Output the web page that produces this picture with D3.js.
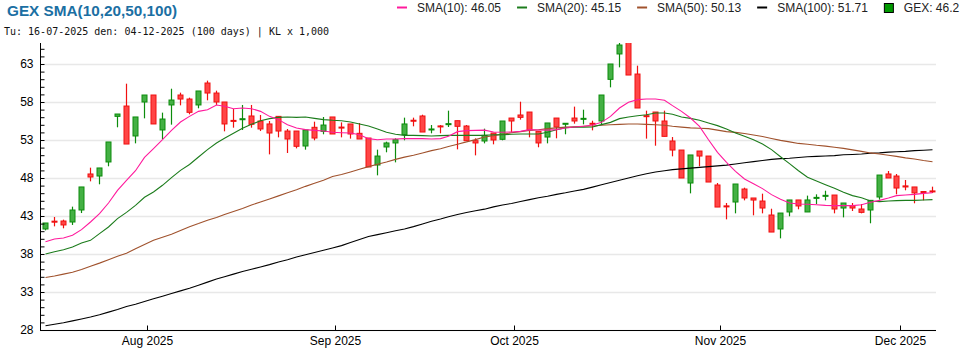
<!DOCTYPE html>
<html><head><meta charset="utf-8">
<script src="https://cdn.jsdelivr.net/npm/d3@7"></script>
<style>html,body{margin:0;padding:0;background:#fff;}svg{display:block;}</style>
</head><body>
<svg id="c" width="970" height="350"></svg>
<script>
// ---- DATA ----
const dates = [
"2025-07-16","2025-07-17","2025-07-18","2025-07-21","2025-07-22","2025-07-23","2025-07-24","2025-07-25","2025-07-28","2025-07-29","2025-07-30","2025-07-31",
"2025-08-01","2025-08-04","2025-08-05","2025-08-06","2025-08-07","2025-08-08","2025-08-11","2025-08-12","2025-08-13","2025-08-14","2025-08-15","2025-08-18","2025-08-19","2025-08-20","2025-08-21","2025-08-22","2025-08-25","2025-08-26","2025-08-27","2025-08-28","2025-08-29",
"2025-09-03","2025-09-04","2025-09-05","2025-09-08","2025-09-09","2025-09-10","2025-09-11","2025-09-12","2025-09-15","2025-09-16","2025-09-17","2025-09-18","2025-09-19","2025-09-22","2025-09-23","2025-09-24","2025-09-25","2025-09-26","2025-09-29","2025-09-30",
"2025-10-01","2025-10-02","2025-10-03","2025-10-06","2025-10-07","2025-10-08","2025-10-09","2025-10-10","2025-10-13","2025-10-14","2025-10-15","2025-10-16","2025-10-17","2025-10-20","2025-10-21","2025-10-22","2025-10-23","2025-10-24","2025-10-27","2025-10-28","2025-10-29","2025-10-30","2025-10-31",
"2025-11-03","2025-11-04","2025-11-05","2025-11-06","2025-11-07","2025-11-10","2025-11-11","2025-11-12","2025-11-13","2025-11-14","2025-11-17","2025-11-18","2025-11-19","2025-11-20","2025-11-21","2025-11-24","2025-11-25","2025-11-26","2025-11-27","2025-11-28",
"2025-12-01","2025-12-02","2025-12-03","2025-12-04"];

const open = [41.29,42.32,42.34,42.21,43.79,48.53,48.26,50.11,56.11,57.47,53.53,58.00,58.92,54.32,57.61,58.92,58.39,57.61,60.50,59.18,
58.00,55.58,55.72,56.16,55.50,55.11,56.11,54.18,54.18,52.21,54.67,54.14,56.03,54.70,55.11,53.88,53.26,49.71,52.08,52.61,
53.70,55.60,56.16,54.36,54.85,55.08,55.54,54.84,52.91,52.87,53.92,53.09,55.89,56.29,56.68,54.14,53.39,55.89,55.15,55.89,
55.80,55.20,55.50,60.98,64.32,66.00,61.68,56.20,56.68,55.50,52.87,51.68,47.34,51.55,50.89,47.08,44.33,44.84,46.55,45.37,
44.97,43.13,41.29,43.53,45.11,43.53,45.40,45.65,45.76,44.05,44.36,43.92,43.79,45.50,48.53,48.26,46.96,46.82,46.22,46.30];
const high = [42.08,42.87,42.52,44.23,46.82,49.36,49.32,52.74,56.42,60.41,56.03,58.92,58.92,56.60,59.75,59.23,58.57,59.45,60.81,59.49,
58.00,57.08,57.61,57.61,56.29,55.50,56.11,54.45,54.18,54.32,55.41,56.03,56.03,55.32,55.11,55.24,53.26,51.73,52.78,53.22,
55.94,55.94,56.33,54.97,54.97,56.86,55.54,54.97,53.22,54.49,53.92,55.50,55.89,58.04,56.68,54.14,55.24,55.89,55.20,57.39,
56.99,55.54,58.92,63.00,65.76,66.00,62.78,56.86,56.68,56.86,53.39,51.68,51.03,51.55,50.89,47.34,44.71,47.21,46.73,45.37,
45.94,43.96,43.39,45.11,45.11,45.68,45.85,46.33,45.76,44.71,44.71,44.58,45.06,48.39,48.92,48.53,47.74,46.82,46.22,46.86];
const low = [41.11,41.64,41.38,41.82,43.39,47.56,47.17,49.54,54.67,52.47,52.56,55.85,55.11,53.13,55.02,57.56,56.38,57.17,58.22,57.61,
54.14,54.62,54.32,54.62,54.18,51.11,53.35,51.29,51.90,51.73,52.96,53.75,53.79,53.35,53.18,53.13,49.45,48.35,51.38,50.06,
52.96,54.80,54.05,53.88,53.88,54.71,51.77,52.91,50.98,52.56,52.43,52.96,54.01,55.68,53.35,52.04,52.56,53.22,53.75,55.15,
55.06,54.27,55.06,59.93,62.56,61.55,57.21,53.18,52.25,53.48,50.85,48.00,45.98,49.54,47.47,44.18,42.56,43.35,45.06,43.09,
43.35,40.89,40.06,42.96,43.88,43.53,44.58,45.06,43.35,42.82,43.66,43.35,42.04,45.15,48.00,45.85,46.38,44.67,45.06,46.03];
const close = [42.08,42.28,41.82,43.79,46.82,48.13,49.32,52.74,56.42,52.47,56.03,58.92,55.11,55.76,58.26,58.39,56.64,59.45,59.18,58.00,
55.11,55.50,55.80,55.06,54.45,53.92,54.18,53.13,52.17,54.32,53.26,54.97,53.79,54.64,53.79,53.13,49.45,50.89,52.61,53.04,
55.11,55.54,54.05,54.45,54.75,55.15,54.80,52.91,52.61,53.61,53.00,55.50,55.50,55.98,54.32,52.61,55.24,54.71,55.20,55.50,
55.85,55.10,58.92,63.00,65.50,61.55,57.21,56.12,55.50,53.48,51.68,48.00,51.03,50.89,47.47,44.18,44.25,47.21,45.37,45.10,
44.05,40.89,43.39,45.11,44.32,45.11,45.45,45.72,43.92,44.71,44.05,43.48,45.06,48.39,48.00,46.68,46.82,46.03,46.15,46.20];

const sma10 = [39.62,39.97,40.11,40.46,41.20,42.21,43.31,44.71,46.38,47.69,48.96,50.72,51.86,53.04,54.27,55.37,56.11,56.77,56.99,57.61,
57.43,57.12,57.21,57.12,56.77,56.11,55.68,55.02,54.58,54.36,54.27,54.18,54.01,53.96,53.92,53.70,53.18,53.04,53.13,53.13,
53.18,53.18,53.18,53.13,53.18,53.48,54.10,54.23,54.27,54.30,54.05,54.01,54.05,54.14,54.36,54.32,54.30,54.36,54.58,54.71,
54.80,54.97,55.32,56.11,57.21,57.96,58.31,58.39,58.39,58.22,57.52,56.77,55.89,54.80,53.04,51.38,50.06,48.88,47.87,47.25,
46.60,45.81,45.20,44.71,44.58,44.55,44.49,44.40,44.36,44.36,44.36,44.49,44.80,45.06,45.37,45.68,45.76,45.85,45.98,46.05];
const sma20 = [38.00,38.30,38.57,38.92,39.45,39.80,40.68,41.55,42.65,43.48,44.40,45.46,46.16,47.04,48.04,49.01,49.78,50.76,51.73,52.61,
53.22,53.88,54.54,55.06,55.54,55.81,55.98,56.03,55.98,56.03,55.85,55.68,55.59,55.54,55.37,55.11,54.84,54.45,54.01,53.75,
53.61,53.61,53.57,53.53,53.57,53.61,53.61,53.61,53.61,53.61,53.70,53.70,53.75,53.79,53.79,53.79,54.01,54.36,54.62,54.67,
54.67,54.71,55.02,55.32,55.81,56.03,56.20,56.33,56.55,56.55,56.38,56.03,55.85,55.59,55.24,54.89,54.45,53.92,53.48,53.04,
52.47,51.73,50.80,49.89,48.96,48.09,47.61,47.12,46.64,46.11,45.68,45.41,44.97,44.89,44.97,45.02,45.06,45.06,45.10,45.15];
const sma50 = [34.90,35.10,35.35,35.60,35.95,36.40,36.80,37.25,37.70,38.10,38.70,39.25,39.80,40.20,40.60,41.10,41.60,42.00,42.45,42.80,
43.20,43.60,44.00,44.45,44.85,45.25,45.65,46.05,46.45,46.90,47.30,47.70,48.20,48.45,48.80,49.15,49.50,49.80,50.10,50.45,
50.75,51.00,51.30,51.60,51.85,52.15,52.45,52.75,53.05,53.40,53.55,53.75,53.95,54.10,54.25,54.35,54.50,54.60,54.70,54.75,
54.80,54.85,54.95,55.00,55.05,55.10,55.10,55.05,55.00,54.95,54.80,54.70,54.60,54.55,54.50,54.30,54.10,54.00,53.85,53.65,
53.45,53.20,52.95,52.75,52.55,52.45,52.30,52.20,52.05,51.90,51.70,51.50,51.30,51.15,51.00,50.85,50.65,50.50,50.30,50.13];
const sma100 = [28.55,28.75,28.95,29.20,29.45,29.70,30.00,30.35,30.70,31.10,31.40,31.75,32.10,32.45,32.80,33.15,33.50,33.90,34.30,34.70,
35.00,35.35,35.70,36.00,36.30,36.60,36.95,37.25,37.60,37.90,38.20,38.50,38.80,39.10,39.50,39.90,40.30,40.55,40.80,41.05,
41.30,41.60,41.95,42.30,42.60,42.90,43.20,43.45,43.70,43.90,44.20,44.45,44.65,44.90,45.15,45.40,45.60,45.85,46.05,46.30,
46.50,46.80,47.10,47.40,47.70,48.00,48.30,48.55,48.80,48.95,49.10,49.20,49.30,49.40,49.50,49.60,49.70,49.85,50.00,50.15,
50.30,50.45,50.55,50.60,50.70,50.80,50.85,50.90,50.95,51.05,51.10,51.15,51.25,51.30,51.40,51.45,51.50,51.60,51.65,51.71];

const yTickValues = [28,33,38,43,48,53,58,63];
const legendItems = [
  {label:"SMA(10): 46.05", key:"sma10"},
  {label:"SMA(20): 45.15", key:"sma20"},
  {label:"SMA(50): 50.13", key:"sma50"},
  {label:"SMA(100): 51.71", key:"sma100"},
  {label:"GEX: 46.2", key:"gex"}
];
const titleText = "GEX SMA(10,20,50,100)";
const subtitleText = "Tu: 16-07-2025 den: 04-12-2025 (100 days) | KL x 1,000";

// ---- STYLE ----
const colors = {sma10:"#ff1a9c", sma20:"#1c7c1c", sma50:"#a0522d", sma100:"#000000"};
const upFill="#44b044", upStroke="#0c8c0c", dnFill="#ff4646", dnStroke="#f01010";

const svg = d3.select("#c");
const L=40, R=936, T=43, B=330;
const parse = d3.timeParse("%Y-%m-%d");

const x = d3.scaleBand().domain(d3.range(dates.length)).range([L+0.5, R+0.5]).padding(0);
const cx = i => Math.round(x(i) + x.bandwidth()/2 + 0.3);
const y = d3.scaleLinear().domain([28, 28 + (B-T)/7.6]).range([B, T]);

// gridlines
svg.append("g").selectAll("line").data(yTickValues).join("line")
  .attr("x1",L).attr("x2",R).attr("y1",d=>Math.round(y(d))+0.5).attr("y2",d=>Math.round(y(d))+0.5)
  .attr("stroke","#e8e8e8").attr("stroke-width",1.5);

svg.append("defs").append("clipPath").attr("id","clip").append("rect")
  .attr("x",L).attr("y",T).attr("width",R-L).attr("height",B-T);

const plot = svg.append("g").attr("clip-path","url(#clip)");

// candles
const idx = d3.range(dates.length);
const cg = plot.append("g");
cg.selectAll("line").data(idx).join("line")
  .attr("x1",i=>cx(i)+0.5).attr("x2",i=>cx(i)+0.5)
  .attr("y1",i=>y(high[i])).attr("y2",i=>y(low[i]))
  .attr("stroke",i=>close[i]>open[i]?upStroke:dnStroke).attr("stroke-width",1.2);
cg.selectAll("rect").data(idx).join("rect")
  .attr("x",i=>cx(i)-2)
  .attr("width",5)
  .attr("y",i=>Math.min(y(open[i]),y(close[i])))
  .attr("height",i=>Math.max(1, Math.abs(y(open[i])-y(close[i]))))
  .attr("fill",i=>close[i]>open[i]?upFill:dnFill)
  .attr("stroke",i=>close[i]>open[i]?upStroke:dnStroke).attr("stroke-width",1);

// SMA lines
const series = {sma100, sma50, sma20, sma10};
Object.entries(series).forEach(([k,arr])=>{
  plot.append("path").datum(arr)
    .attr("fill","none").attr("stroke",colors[k]).attr("stroke-width",1.1)
    .attr("d", d3.line().x((d,i)=>cx(i)+0.5).y(d=>y(d)));
});

// Y axis
const yAxis = d3.axisLeft(y).tickValues(d3.range(28,66)).tickSize(-4).tickPadding(7)
  .tickFormat(d => yTickValues.includes(d) ? d : "");
const yg = svg.append("g").attr("transform",`translate(${L+0.5},0)`).call(yAxis);
yg.select(".domain").attr("d",`M0,${T}V${B}`).attr("stroke","#000");
yg.selectAll("text").attr("font-family","Liberation Sans, Arial, sans-serif").attr("font-size",12).attr("fill","#000");

// X axis
const monthStarts = [];
idx.forEach(i=>{ if(i===0) return; if(dates[i].slice(5,7)!==dates[i-1].slice(5,7)) monthStarts.push(i); });
const xAxis = d3.axisBottom(x).tickValues(monthStarts).tickSize(-5).tickPadding(6)
  .tickFormat(i=>d3.timeFormat("%b %Y")(parse(dates[i])));
const xg = svg.append("g").attr("transform",`translate(0,${B+0.5})`).call(xAxis);
xg.selectAll(".tick").attr("transform",i=>`translate(${Math.round(x(i))-0.5},0)`);
xg.select(".domain").attr("d",`M${L},0H${R}`).attr("stroke","#000");
xg.selectAll("text").attr("font-family","Liberation Sans, Arial, sans-serif").attr("font-size",12).attr("fill","#000");

// Title
svg.append("text").attr("x",7).attr("y",16).text(titleText)
  .attr("font-family","Liberation Sans, Arial, sans-serif").attr("font-weight","bold").attr("font-size",15.3).attr("fill","#1b6fa3");
svg.append("text").attr("x",4).attr("y",35).text(subtitleText)
  .attr("font-family","DejaVu Sans Mono, monospace").attr("font-size",10).attr("fill","#111");

// Legend
let lx = 397;
legendItems.forEach(it=>{
  const g = svg.append("g");
  if(it.key==="gex"){
    g.append("rect").attr("x",lx+0.5).attr("y",3.5).attr("width",9).attr("height",9)
      .attr("fill","#009900").attr("stroke","#000");
  } else {
    g.append("line").attr("x1",lx).attr("x2",lx+10).attr("y1",7.5).attr("y2",7.5)
      .attr("stroke",colors[it.key]).attr("stroke-width",2);
  }
  const t = g.append("text").attr("x",lx+20).attr("y",12).text(it.label)
    .attr("font-family","Liberation Sans, Arial, sans-serif").attr("font-size",12).attr("fill","#222");
  lx = lx + 20 + t.node().getComputedTextLength() + 16;
});
</script>
</body></html>
